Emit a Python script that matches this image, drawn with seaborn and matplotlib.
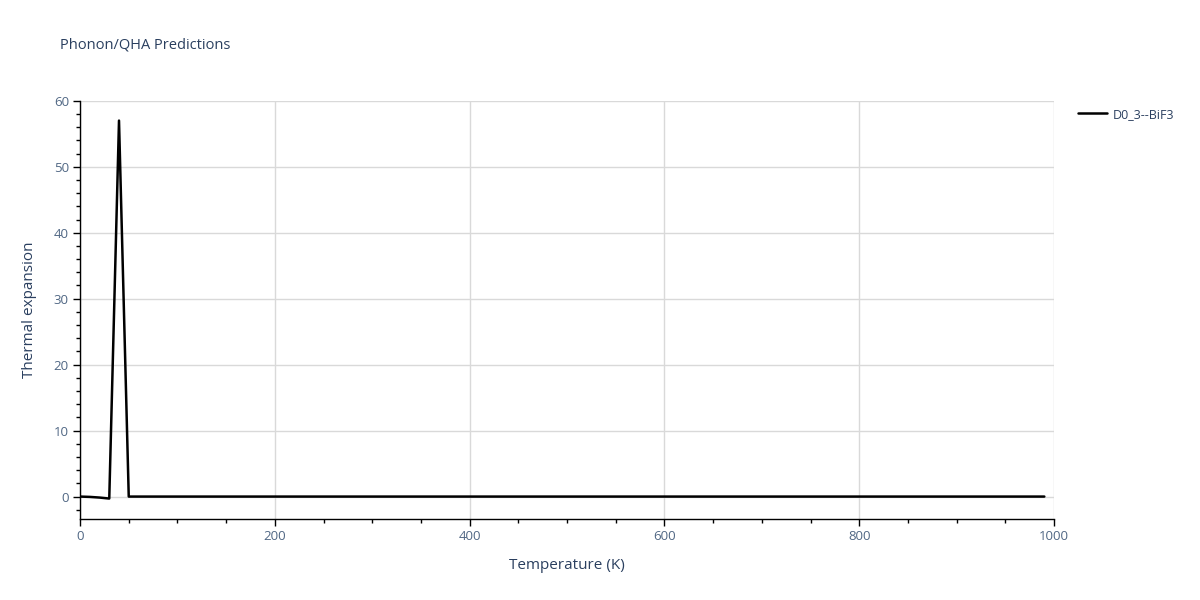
import matplotlib
matplotlib.use("Agg")
import matplotlib.pyplot as plt
import seaborn as sns
import pandas as pd
from matplotlib.ticker import MultipleLocator

sns.set_style("white")
plt.rcParams['font.family'] = ['Open Sans', 'DejaVu Sans']

# Temperature grid (K) and thermal expansion values
temperature = [
    0, 10, 20, 30, 40, 50, 60, 70, 80, 90,
    100, 110, 120, 130, 140, 150, 160, 170, 180, 190,
    200, 210, 220, 230, 240, 250, 260, 270, 280, 290,
    300, 310, 320, 330, 340, 350, 360, 370, 380, 390,
    400, 410, 420, 430, 440, 450, 460, 470, 480, 490,
    500, 510, 520, 530, 540, 550, 560, 570, 580, 590,
    600, 610, 620, 630, 640, 650, 660, 670, 680, 690,
    700, 710, 720, 730, 740, 750, 760, 770, 780, 790,
    800, 810, 820, 830, 840, 850, 860, 870, 880, 890,
    900, 910, 920, 930, 940, 950, 960, 970, 980, 990,
]
thermal_expansion = [
    0.0, -0.05, -0.15, -0.3, 57.0, 0.0, 0.0, 0.0, 0.0, 0.0,
    0.0, 0.0, 0.0, 0.0, 0.0, 0.0, 0.0, 0.0, 0.0, 0.0,
    0.0, 0.0, 0.0, 0.0, 0.0, 0.0, 0.0, 0.0, 0.0, 0.0,
    0.0, 0.0, 0.0, 0.0, 0.0, 0.0, 0.0, 0.0, 0.0, 0.0,
    0.0, 0.0, 0.0, 0.0, 0.0, 0.0, 0.0, 0.0, 0.0, 0.0,
    0.0, 0.0, 0.0, 0.0, 0.0, 0.0, 0.0, 0.0, 0.0, 0.0,
    0.0, 0.0, 0.0, 0.0, 0.0, 0.0, 0.0, 0.0, 0.0, 0.0,
    0.0, 0.0, 0.0, 0.0, 0.0, 0.0, 0.0, 0.0, 0.0, 0.0,
    0.0, 0.0, 0.0, 0.0, 0.0, 0.0, 0.0, 0.0, 0.0, 0.0,
    0.0, 0.0, 0.0, 0.0, 0.0, 0.0, 0.0, 0.0, 0.0, 0.0,
]
series_name = "D0_3--BiF3"

df = pd.DataFrame({"T": temperature, "alpha": thermal_expansion})

text_color = "#2a3f5f"
tick_color = "#506784"

fig = plt.figure(figsize=(12, 6), dpi=100)
ax = fig.add_axes([0.0667, 0.135, 0.8117, 0.697])

sns.lineplot(data=df, x="T", y="alpha", color="black", linewidth=1.8,
             label=series_name, ax=ax)

ax.set_xlim(0, 1000)
ax.set_ylim(-3.4, 60)
ax.xaxis.set_major_locator(MultipleLocator(200))
ax.xaxis.set_minor_locator(MultipleLocator(50))
ax.yaxis.set_major_locator(MultipleLocator(10))
ax.yaxis.set_minor_locator(MultipleLocator(2))

ax.grid(True, which="major", color="#d9d9d9", linewidth=1)
ax.set_axisbelow(True)
for side in ["top", "right"]:
    ax.spines[side].set_visible(False)
for side in ["left", "bottom"]:
    ax.spines[side].set_color("black")
    ax.spines[side].set_linewidth(1)

ax.tick_params(which="major", direction="out", length=5, width=1,
               color="black", labelcolor=tick_color, labelsize=9.5, pad=3)
ax.tick_params(which="minor", direction="out", length=3, width=1, color="black")
ax.tick_params(left=True, bottom=True, which="both")

ax.set_xlabel("Temperature (K)", fontsize=11, color=text_color, labelpad=11)
ax.set_ylabel("Thermal expansion", fontsize=11, color=text_color, labelpad=12)

fig.text(0.05, 0.925, "Phonon/QHA Predictions", fontsize=10.5, color=text_color,
         va="center", ha="left")

leg = ax.legend(loc="upper left", bbox_to_anchor=(1.013, 1.01), frameon=False,
                fontsize=9, handlelength=2.3, handletextpad=0.5)
for t in leg.get_texts():
    t.set_color(text_color)

fig.savefig("out.png", dpi=100)
